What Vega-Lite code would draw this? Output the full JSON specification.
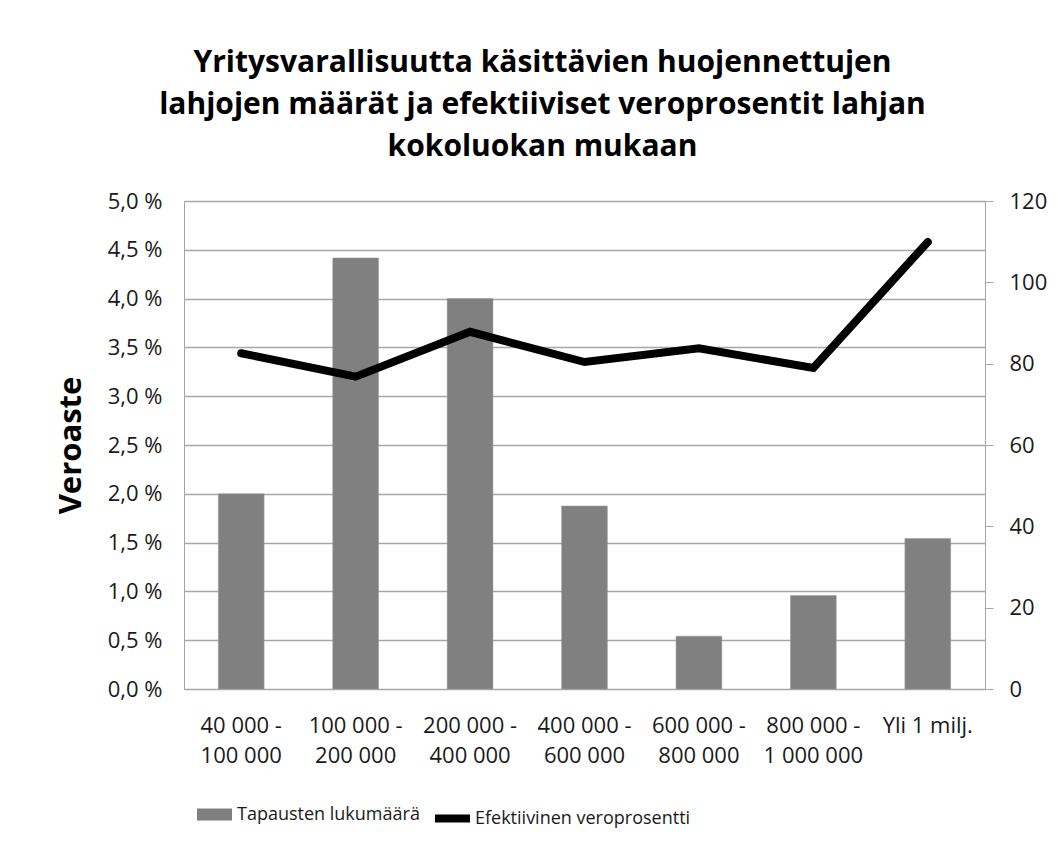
{
  "$schema": "https://vega.github.io/schema/vega-lite/v6.json",
  "width": 801,
  "height": 488,
  "autosize": {"type": "none"},
  "padding": {"left": 184, "top": 201, "right": 73, "bottom": 158},
  "background": "white",
  "config": {
    "font": "Open Sans",
    "view": {"stroke": null},
    "axis": {"labelFont": "Open Sans", "labelColor": "#1a1a1a", "titleFont": "Open Sans", "domainColor": "#a6a6a6", "tickColor": "#a6a6a6"}
  },
  "title": {
    "text": ["Yritysvarallisuutta käsittävien huojennettujen", "lahjojen määrät ja efektiiviset veroprosentit lahjan", "kokoluokan mukaan"],
    "font": "Open Sans",
    "fontSize": 30,
    "fontWeight": "bold",
    "lineHeight": 42,
    "anchor": "middle",
    "dx": -42,
    "color": "#000000",
    "offset": 28
  },
  "data": {
    "values": [
      {"luokka": "40 000 - 100 000", "lukumaara": 48, "veroprosentti": 3.44},
      {"luokka": "100 000 - 200 000", "lukumaara": 106, "veroprosentti": 3.20},
      {"luokka": "200 000 - 400 000", "lukumaara": 96, "veroprosentti": 3.66},
      {"luokka": "400 000 - 600 000", "lukumaara": 45, "veroprosentti": 3.35},
      {"luokka": "600 000 - 800 000", "lukumaara": 13, "veroprosentti": 3.49},
      {"luokka": "800 000 - 1 000 000", "lukumaara": 23, "veroprosentti": 3.29},
      {"luokka": "Yli 1 milj.", "lukumaara": 37, "veroprosentti": 4.58}
    ]
  },
  "encoding": {
    "x": {
      "field": "luokka",
      "type": "nominal",
      "sort": null,
      "scale": {"paddingInner": 0.6, "paddingOuter": 0.3},
      "axis": {
        "title": null,
        "labelAngle": 0,
        "tickSize": 0,
        "labelFontSize": 22,
        "labelLineHeight": 30,
        "labelPadding": 26,
        "labelLimit": 300,
        "labelExpr": "indexof(datum.label, ' - ') > 0 ? [substring(datum.label, 0, indexof(datum.label, ' - ') + 2), substring(datum.label, indexof(datum.label, ' - ') + 3)] : datum.label"
      }
    }
  },
  "layer": [
    {
      "mark": {"type": "bar", "stroke": "#9a9a9a", "strokeWidth": 0.5},
      "encoding": {
        "y": {
          "field": "lukumaara",
          "type": "quantitative",
          "scale": {"domain": [0, 120]},
          "axis": {
            "orient": "right",
            "title": null,
            "grid": false,
            "values": [0, 20, 40, 60, 80, 100, 120],
            "tickSize": 8,
            "labelPadding": 16,
            "labelFontSize": 22
          }
        },
        "fill": {
          "datum": "Tapausten lukumäärä",
          "scale": {"range": ["#808080"]},
          "legend": {
            "orient": "none",
            "legendX": 13,
            "legendY": 596,
            "title": null,
            "labelFont": "Open Sans",
            "labelFontSize": 18,
            "labelColor": "#1a1a1a",
            "labelLimit": 400,
            "labelOffset": 5,
            "symbolType": "M-1,-0.34H1V0.34H-1Z",
            "symbolSize": 1225,
            "symbolStrokeWidth": 0
          }
        }
      }
    },
    {
      "mark": {"type": "line", "strokeWidth": 8, "strokeCap": "round", "strokeJoin": "miter"},
      "encoding": {
        "y": {
          "field": "veroprosentti",
          "type": "quantitative",
          "scale": {"domain": [0, 5]},
          "axis": {
            "orient": "left",
            "title": "Veroaste",
            "titleFontSize": 31,
            "titleFontWeight": "bold",
            "titleColor": "#000000",
            "titlePadding": 20,
            "grid": true,
            "gridColor": "#a6a6a6",
            "gridWidth": 1.5,
            "values": [0, 0.5, 1, 1.5, 2, 2.5, 3, 3.5, 4, 4.5, 5],
            "tickSize": 0,
            "labelPadding": 22,
            "labelFontSize": 22,
            "labelExpr": "replace(format(datum.value, '.1f'), '.', ',') + ' %'"
          }
        },
        "stroke": {
          "datum": "Efektiivinen veroprosentti",
          "scale": {"range": ["#000000"]},
          "legend": {
            "orient": "none",
            "legendX": 247,
            "legendY": 596,
            "title": null,
            "labelFont": "Open Sans",
            "labelFontSize": 18,
            "labelColor": "#1a1a1a",
            "labelLimit": 400,
            "labelOffset": 1,
            "symbolType": "stroke",
            "symbolSize": 1225,
            "symbolStrokeWidth": 8
          }
        }
      }
    }
  ],
  "resolve": {"scale": {"y": "independent"}}
}
